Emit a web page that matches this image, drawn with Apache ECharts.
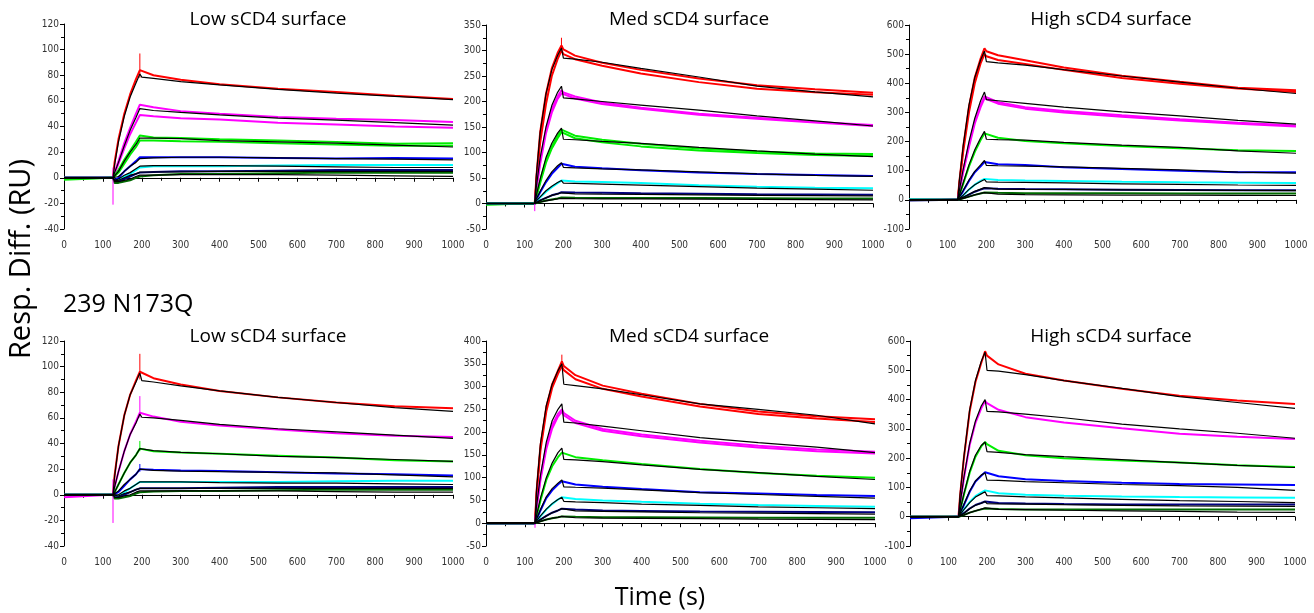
<!DOCTYPE html>
<html>
<head>
<meta charset="utf-8">
<script src="https://cdn.jsdelivr.net/npm/echarts@6/dist/echarts.min.js"></script>
<style>
  html, body { margin: 0; padding: 0; background: #fff; }
  #chart { width: 1314px; height: 613px; }
</style>
</head>
<body>
<div id="chart"></div>
<script>
// sample times (s) shared by every sensorgram
const times = [0, 120, 126, 130, 140, 155, 170, 185, 195, 200, 230, 300, 400, 550, 700, 850, 1000];
const xTicks = [0, 100, 200, 300, 400, 500, 600, 700, 800, 900, 1000];

// --- top row, Low sCD4 surface ---
const topLowData = [
  ["red",     [0, 0, 0, 12, 30, 50, 65, 77, 84, 83, 80, 76.5, 73, 69.5, 67, 64, 61.5]],
  ["magenta", [0, 0, 0, 4, 13, 27, 39, 50, 57, 57, 55, 52, 50, 47.5, 46, 45, 43.5]],
  ["magenta", [0, 0, 0, 3, 11, 23, 34, 43, 49, 49, 48, 46.5, 45.5, 43, 41.5, 40, 39]],
  ["green",   [-1.5, 0, 0, 1, 6, 14, 21, 28, 33, 33, 31.5, 31, 30, 29, 28, 26.5, 27]],
  ["green",   [-1, 0, 0, 0, 4, 11, 18, 24, 29, 29.5, 29, 28.5, 28, 27, 26, 25, 25]],
  ["blue",    [0, 0, 0, -2, 0, 5, 9, 13, 16, 16, 16, 16, 16, 15.5, 15, 15.5, 15]],
  ["cyan",    [0, 0, 0, -3, -2, 1, 3, 6, 8, 8.5, 9, 9, 9, 9.5, 10, 10, 10]],
  ["navy",    [0, 0, 0, -3, -3, -1, 1, 3, 4, 4, 4.5, 5, 5, 5.5, 6, 6, 6]],
  ["darkgreen", [0, 0, 0, -4, -4, -3, -2, 0, 1, 1.5, 2, 3, 3, 3.5, 4, 4, 4]]
];
const topLowFit = [
  [0, 0, 0, 10, 28, 48, 63, 74, 81, 78.5, 77.5, 75, 72.5, 69, 66, 63.5, 61],
  [0, 0, 0, 4, 12, 25, 37, 47, 54, 53, 52.5, 51, 49, 46.5, 45, 43, 41],
  [0, 0, 0, 1, 5, 13, 20, 26, 31, 31, 31, 30.5, 29, 28, 27, 25.5, 24],
  [0, 0, 0, -1, 1, 5, 9, 12, 15, 15, 15.5, 16, 16, 15.5, 15, 14.5, 14],
  [0, 0, 0, -2, -1, 2, 4, 7, 9, 9.5, 9.5, 9.5, 9.5, 9, 8.5, 8, 8],
  [0, 0, 0, -2, -2, 0, 2, 3, 4.5, 4.5, 4.5, 4.5, 5, 5, 5, 5, 5],
  [0, 0, 0, -3, -3, -2, -1, 1, 2, 2, 2, 2.5, 2.5, 2.5, 2, 1.5, 1]
];
const topLowSpikes = [["red", 195, 78, 97], ["magenta", 126, -21, 8]];

// --- top row, Med sCD4 surface ---
const topMedData = [
  ["red",     [0, 0, 0, 50, 140, 215, 265, 295, 310, 302, 290, 276, 262, 245, 232, 224, 217]],
  ["red",     [0, 0, 0, 40, 120, 195, 250, 283, 300, 293, 283, 270, 255, 238, 225, 218, 213]],
  ["magenta", [0, 0, 0, 30, 85, 145, 185, 210, 222, 218, 210, 198, 188, 176, 168, 160, 154]],
  ["magenta", [0, 0, 0, 25, 78, 138, 178, 205, 216, 213, 206, 195, 186, 174, 166, 159, 152]],
  ["green",   [-2, 0, 0, 15, 45, 85, 112, 133, 145, 142, 133, 125, 117, 108, 102, 98, 97]],
  ["green",   [-2, 0, 0, 12, 40, 80, 108, 128, 140, 137, 128, 120, 112, 104, 99, 95, 93]],
  ["blue",    [0, 0, 0, 8, 22, 42, 58, 70, 78, 76, 72, 69, 65, 61, 58, 56, 54]],
  ["cyan",    [0, 0, 0, 4, 12, 23, 32, 40, 45, 44, 43, 42, 40, 36, 33, 31, 30]],
  ["navy",    [0, 0, 0, 2, 6, 11, 16, 19, 22, 22, 21.5, 21, 20, 19, 18, 17.5, 17]],
  ["darkgreen", [0, 0, 0, 1, 3, 6, 8, 10, 12, 12, 11.5, 11, 11, 11, 10.5, 10, 10]]
];
const topMedFit = [
  [0, 0, 0, 55, 140, 215, 262, 290, 305, 285, 283, 277, 265, 248, 230, 219, 209],
  [0, 0, 0, 32, 90, 150, 192, 218, 230, 207, 205, 200, 193, 183, 172, 162, 152],
  [0, 0, 0, 16, 48, 90, 118, 138, 148, 126, 125, 122, 118, 110, 103, 97, 92],
  [0, 0, 0, 9, 24, 45, 62, 74, 80, 71, 70, 68, 66, 62, 58, 55, 53],
  [0, 0, 0, 5, 13, 25, 34, 41, 45, 40, 39.5, 38, 36, 33, 30, 28, 26],
  [0, 0, 0, 2, 6, 11, 16, 19, 21, 19, 19, 18.5, 18, 17, 16, 15.5, 15],
  [0, 0, 0, 1, 3, 5, 7, 9, 10, 9.5, 9.5, 9, 9, 8.5, 8, 7.5, 7]
];
const topMedSpikes = [["red", 195, 300, 325], ["magenta", 126, -15, 5]];

// --- top row, High sCD4 surface ---
const topHighData = [
  ["red",     [0, 0, 0, 60, 180, 320, 420, 485, 520, 510, 496, 479, 454, 426, 405, 385, 376]],
  ["red",     [0, 0, 0, 50, 165, 300, 400, 468, 500, 493, 480, 466, 446, 418, 398, 382, 370]],
  ["magenta", [0, 0, 0, 30, 100, 190, 270, 325, 355, 350, 335, 318, 305, 290, 277, 265, 255]],
  ["magenta", [0, 0, 0, 28, 95, 182, 262, 318, 348, 344, 330, 313, 300, 285, 272, 261, 252]],
  ["green",   [0, 0, 0, 15, 55, 115, 165, 205, 228, 224, 213, 202, 194, 185, 177, 170, 168]],
  ["blue",    [0, 0, 0, 8, 30, 65, 95, 115, 130, 128, 122, 120, 112, 106, 100, 95, 95]],
  ["cyan",    [2, 0, 0, 4, 15, 35, 52, 65, 72, 71, 68, 66, 65, 62, 60, 59, 58]],
  ["navy",    [-2, 0, 0, 2, 8, 18, 28, 35, 40, 40, 38, 37, 36, 35, 34, 33, 33]],
  ["darkgreen", [0, 0, 0, 1, 5, 11, 17, 22, 25, 25, 24, 23, 23, 22.5, 22, 22, 22]]
];
const topHighFit = [
  [0, 0, 0, 65, 185, 325, 420, 480, 510, 474, 470, 462, 447, 425, 404, 383, 365],
  [0, 0, 0, 32, 105, 200, 280, 340, 370, 344, 340, 331, 318, 302, 288, 273, 260],
  [0, 0, 0, 16, 58, 120, 172, 212, 235, 208, 207, 205, 197, 188, 180, 168, 160],
  [0, 0, 0, 9, 32, 68, 98, 120, 135, 118, 117, 116, 113, 108, 103, 95, 92],
  [0, 0, 0, 5, 16, 36, 52, 63, 70, 62, 61, 60, 58, 55, 53, 51, 50],
  [0, 0, 0, 2, 9, 19, 29, 37, 42, 38, 37, 36, 35.5, 34.5, 33.5, 32.5, 32],
  [0, 0, 0, 1, 5, 11, 17, 22, 25, 21, 20, 18, 17, 16.5, 16, 15.5, 15]
];
const topHighSpikes = [];

// --- bottom row (239 N173Q), Low sCD4 surface ---
const botLowData = [
  ["red",     [0, 0, 0, 15, 38, 62, 78, 89, 96, 95, 91, 86, 81, 76, 72, 69, 67.5]],
  ["magenta", [-2, 0, 0, 6, 18, 34, 47, 57, 64, 63, 61, 57, 54, 51, 48, 46, 45]],
  ["green",   [0, 0, 0, 2, 8, 17, 25, 31, 36, 35, 34, 33, 32, 30.5, 29, 27, 26]],
  ["blue",    [0, 0, 0, -1, 2, 7, 12, 16, 20, 20, 19.5, 19, 18.5, 17.5, 16.5, 16, 15]],
  ["cyan",    [0, 0, 0, -2, -1, 2, 5, 8, 10, 10, 10, 10, 10, 10, 10.5, 11, 11]],
  ["navy",    [0, 0, 0, -2, -2, 0, 2, 4, 5, 5, 5, 5, 5.5, 6, 6, 6, 6]],
  ["darkgreen", [0, 0, 0, -3, -3, -2, -1, 1, 2, 2, 2.5, 3, 3, 3.5, 4, 4, 4]]
];
const botLowFit = [
  [0, 0, 0, 14, 38, 62, 78, 88, 95, 89, 88, 85, 81, 76, 72, 68, 65],
  [0, 0, 0, 6, 18, 34, 47, 56, 63, 60.5, 60, 58, 55, 51.5, 49, 46.5, 44],
  [0, 0, 0, 2, 8, 17, 25, 31, 36, 35, 34.5, 33, 32, 30, 29, 27.5, 26],
  [0, 0, 0, 0, 3, 8, 12, 16, 20, 19, 19, 18.5, 18, 17.5, 17, 15.5, 14],
  [0, 0, 0, -1, 0, 3, 5, 8, 10, 10, 10, 10, 9.5, 9, 9, 8.5, 8],
  [0, 0, 0, -1, -1, 1, 2, 4, 5, 5, 5, 5, 5, 5, 5, 5, 5],
  [0, 0, 0, -2, -2, -1, 0, 2, 3, 3, 3, 3, 3, 3, 2.5, 2, 2]
];
const botLowSpikes = [["red", 195, 90, 110], ["magenta", 195, 60, 77], ["magenta", 126, -22, 12],
                      ["green", 195, 34, 42], ["blue", 195, 18, 24]];

// --- bottom row, Med sCD4 surface ---
const botMedData = [
  ["red",     [0, 0, 0, 70, 170, 255, 305, 335, 355, 345, 325, 302, 284, 262, 245, 235, 228]],
  ["red",     [0, 0, 0, 60, 160, 245, 297, 328, 345, 336, 316, 295, 278, 256, 240, 230, 222]],
  ["magenta", [0, 0, 0, 35, 100, 170, 215, 240, 250, 242, 225, 207, 195, 181, 170, 162, 157]],
  ["magenta", [0, 0, 0, 32, 95, 163, 208, 234, 245, 237, 220, 203, 191, 177, 166, 158, 153]],
  ["green",   [0, 0, 0, 15, 50, 95, 125, 145, 155, 152, 145, 138, 130, 119, 110, 104, 100]],
  ["blue",    [0, 0, 0, 8, 28, 55, 72, 85, 92, 90, 85, 80, 75, 68, 65, 62, 60]],
  ["cyan",    [0, 0, 0, 4, 15, 30, 42, 52, 57, 56, 53, 50, 47, 43, 40, 38, 36]],
  ["navy",    [0, 0, 0, 2, 8, 16, 23, 28, 32, 31, 30, 28, 27, 25.5, 25, 24.5, 24]],
  ["darkgreen", [0, 0, 0, 1, 4, 8, 11, 13, 15, 15, 14, 13, 13, 12.5, 12, 12, 12]]
];
const botMedFit = [
  [0, 0, 0, 75, 175, 258, 305, 335, 350, 305, 302, 295, 282, 262, 250, 237, 218],
  [0, 0, 0, 38, 105, 178, 225, 250, 262, 222, 220, 213, 203, 188, 177, 167, 155],
  [0, 0, 0, 17, 55, 100, 132, 155, 165, 140, 139, 135, 128, 118, 111, 103, 96],
  [0, 0, 0, 9, 30, 58, 76, 88, 95, 80, 79, 77, 73, 67, 63, 59, 55],
  [0, 0, 0, 5, 16, 31, 43, 52, 57, 48, 47, 45, 42, 39, 36, 34, 32],
  [0, 0, 0, 2, 8, 16, 23, 28, 32, 28, 27, 26, 25, 23, 22, 21, 20],
  [0, 0, 0, 1, 4, 8, 11, 13, 15, 12, 12, 11, 10.5, 10, 9, 8.5, 8]
];
const botMedSpikes = [["red", 195, 340, 370], ["magenta", 126, -10, 5]];

// --- bottom row, High sCD4 surface ---
const botHighData = [
  ["red",     [0, 0, 0, 70, 200, 360, 460, 525, 565, 550, 520, 488, 465, 437, 413, 397, 385]],
  ["magenta", [0, 0, 0, 40, 130, 245, 320, 370, 395, 388, 365, 340, 322, 302, 283, 273, 265]],
  ["green",   [0, 0, 0, 20, 75, 150, 205, 240, 255, 248, 225, 210, 200, 192, 185, 176, 170]],
  ["blue",    [-5, 0, 0, 10, 40, 85, 120, 140, 152, 148, 138, 128, 122, 116, 112, 110, 108]],
  ["cyan",    [0, 0, 0, 6, 25, 50, 70, 82, 90, 88, 80, 75, 72, 69, 67, 66, 65]],
  ["navy",    [0, 0, 0, 3, 12, 28, 40, 47, 52, 50, 47, 45, 43, 42, 42, 42, 42]],
  ["darkgreen", [0, 0, 0, 1, 6, 14, 20, 25, 28, 28, 26, 25, 25, 25, 25, 25, 25]]
];
const botHighFit = [
  [0, 0, 0, 75, 205, 365, 465, 530, 562, 500, 497, 485, 465, 438, 410, 390, 370],
  [0, 0, 0, 42, 135, 250, 327, 378, 400, 360, 358, 350, 338, 316, 300, 285, 268],
  [0, 0, 0, 21, 78, 155, 210, 243, 255, 222, 220, 212, 205, 195, 185, 175, 168],
  [0, 0, 0, 11, 42, 88, 122, 142, 150, 125, 124, 120, 116, 110, 106, 100, 90],
  [0, 0, 0, 6, 24, 48, 67, 78, 85, 72, 71, 68, 64, 59, 55, 52, 48],
  [0, 0, 0, 3, 12, 27, 39, 46, 52, 45, 44, 43, 41, 39, 37, 36, 35],
  [0, 0, 0, 1, 6, 14, 20, 26, 30, 26, 25, 24, 22, 20, 18, 16, 15]
];
const botHighSpikes = [];

const yRanges = [[-40, 120, 20], [-50, 350, 50], [-100, 600, 100],
                 [-40, 120, 20], [-50, 400, 50], [-100, 600, 100]];
const titles = ["Low sCD4 surface", "Med sCD4 surface", "High sCD4 surface",
                "Low sCD4 surface", "Med sCD4 surface", "High sCD4 surface"];

// styling / layout
const palette = {
  red: "#ff0000", magenta: "#ff00ff", green: "#00ee00", blue: "#0000ff",
  cyan: "#00ffff", navy: "#000080", darkgreen: "#006a00"
};
const grids = [
  { left: 64, top: 24, width: 389, height: 205 },
  { left: 486, top: 25, width: 387, height: 204 },
  { left: 909, top: 25, width: 387, height: 204 },
  { left: 64, top: 341, width: 389, height: 205 },
  { left: 486, top: 341, width: 389, height: 205 },
  { left: 910, top: 341, width: 385, height: 205 }
];
const titlePos = [[268, 20], [689, 20], [1111, 20], [268, 337], [689, 337], [1111, 337]];

const panels = [
  [topLowData, topLowFit, topLowSpikes],
  [topMedData, topMedFit, topMedSpikes],
  [topHighData, topHighFit, topHighSpikes],
  [botLowData, botLowFit, botLowSpikes],
  [botMedData, botMedFit, botMedSpikes],
  [botHighData, botHighFit, botHighSpikes]
];

const tickFont = { fontFamily: "Liberation Sans Narrow, DejaVu Sans Condensed, sans-serif", fontSize: 10, color: "#333" };
const axisLine = { show: true, lineStyle: { color: "#000", width: 1 } };

const xAxes = [], yAxes = [], series = [];
panels.forEach(function (p, i) {
  xAxes.push({
    type: "value", gridIndex: i, min: 0, max: xTicks[xTicks.length - 1], interval: 100,
    axisLine: axisLine, splitLine: { show: false },
    axisTick: { show: true, length: 4, lineStyle: { color: "#000" } },
    minorTick: { show: true, splitNumber: 2, length: 3, lineStyle: { color: "#000" } },
    axisLabel: Object.assign({ margin: 11, formatter: function (v) { return String(v); } }, tickFont)
  });
  yAxes.push({
    type: "value", gridIndex: i, min: yRanges[i][0], max: yRanges[i][1], interval: yRanges[i][2],
    axisLine: axisLine, splitLine: { show: false },
    axisTick: { show: true, length: 4, lineStyle: { color: "#000" } },
    minorTick: { show: true, splitNumber: 2, length: 3, lineStyle: { color: "#000" } },
    axisLabel: Object.assign({ margin: 5, formatter: function (v) { return String(v); } }, tickFont)
  });
  p[0].forEach(function (row) {
    series.push({
      type: "line", xAxisIndex: i, yAxisIndex: i, showSymbol: false, silent: true,
      data: times.map(function (t, k) { return [t, row[1][k]]; }),
      lineStyle: { color: palette[row[0]], width: 2 }, z: 2
    });
  });
  p[2].forEach(function (s) {
    series.push({
      type: "line", xAxisIndex: i, yAxisIndex: i, showSymbol: false, silent: true,
      data: [[s[1], s[2]], [s[1], s[3]]],
      lineStyle: { color: palette[s[0]], width: 1 }, z: 2
    });
  });
  p[1].forEach(function (vals) {
    series.push({
      type: "line", xAxisIndex: i, yAxisIndex: i, showSymbol: false, silent: true,
      data: times.map(function (t, k) { return [t, vals[k]]; }),
      lineStyle: { color: "#000", width: 1.2 }, z: 3
    });
  });
});

const textFont = "Open Sans, sans-serif";
const graphics = titles.map(function (t, i) {
  return {
    type: "text", x: titlePos[i][0], y: titlePos[i][1], silent: true, z: 10,
    style: { text: t, align: "center", verticalAlign: "middle", fontSize: 19, fontFamily: textFont, fill: "#000" }
  };
});
graphics.push({
  type: "text", x: 63, y: 305, silent: true,
  style: { text: "239 N173Q", align: "left", verticalAlign: "middle", fontSize: 25, fontFamily: textFont, fill: "#000" }
});
graphics.push({
  type: "text", x: 22, y: 259, rotation: Math.PI / 2, silent: true,
  style: { text: "Resp. Diff. (RU)", align: "center", verticalAlign: "middle", fontSize: 29, fontFamily: textFont, fill: "#000" }
});
graphics.push({
  type: "text", x: 660, y: 598, silent: true,
  style: { text: "Time (s)", align: "center", verticalAlign: "middle", fontSize: 25, fontFamily: textFont, fill: "#000" }
});

const chart = echarts.init(document.getElementById("chart"));
chart.setOption({
  animation: false,
  backgroundColor: "#fff",
  grid: grids,
  xAxis: xAxes,
  yAxis: yAxes,
  series: series,
  graphic: graphics
});
</script>
</body>
</html>
